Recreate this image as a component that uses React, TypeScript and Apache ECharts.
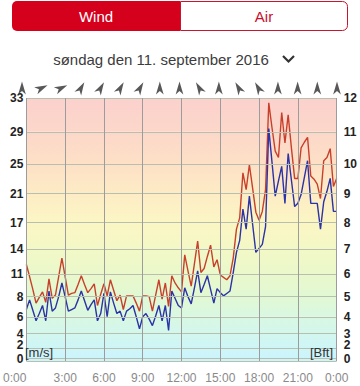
import React, { useEffect, useRef } from "react";
import * as echarts from "echarts";

// 15-minute samples, 0:00 -> 24:00 (m/s)
const STEP_HOURS = 0.25;
const gustValues = [
  12.0, 10.5, 8.9, 7.2, 7.9, 8.6, 7.3, 10.2, 7.8, 8.2, 10.5, 12.8, 10.5, 8.2, 8.4, 8.5,
  9.5, 10.6, 9.5, 8.5, 9.0, 9.6, 6.9, 8.3, 9.6, 8.1, 10.1, 8.8, 7.5, 8.2, 6.4, 8.1,
  8.1, 8.1, 7.2, 6.2, 8.1, 8.1, 8.0, 6.2, 8.2, 10.1, 7.7, 9.7, 6.8, 10.6, 9.7, 9.1,
  8.6, 13.2, 11.2, 9.3, 12.1, 14.9, 11.0, 11.5, 13.0, 14.4, 11.7, 12.6, 10.7, 10.4,
  10.1, 10.6, 12.8, 16.4, 17.8, 23.4, 21.3, 24.4, 21.5, 18.5, 17.5, 18.6, 21.3, 32.1,
  29.0, 26.1, 25.3, 30.9, 27.1, 30.6, 26.5, 22.7, 22.7, 26.5, 27.2, 27.8, 23.0, 22.6,
  22.0, 20.2, 24.9, 25.3, 26.4, 21.7, 22.7,
];
const meanValues = [
  6.4, 7.6, 6.3, 5.0, 5.9, 6.9, 5.0, 8.7, 6.2, 6.6, 8.0, 9.7, 8.0, 6.2, 6.4, 6.6,
  7.6, 8.7, 7.5, 6.3, 7.0, 7.6, 5.0, 5.9, 8.4, 5.5, 8.6, 7.2, 5.9, 6.2, 5.0, 6.2,
  6.5, 6.9, 5.5, 4.0, 5.5, 5.9, 5.2, 4.4, 5.6, 6.9, 5.0, 6.9, 3.8, 8.7, 7.8, 6.9,
  6.6, 9.1, 8.0, 7.1, 9.1, 11.2, 8.5, 9.5, 10.6, 8.9, 7.2, 9.0, 8.5, 8.1,
  8.4, 8.7, 11.0, 13.5, 15.0, 18.9, 16.4, 20.5, 17.0, 13.5, 14.0, 14.5, 16.7, 28.9,
  24.7, 20.5, 22.4, 24.2, 19.6, 25.8, 22.5, 19.2, 19.6, 20.7, 22.8, 24.9, 19.6, 19.6,
  19.6, 16.4, 19.8, 21.1, 22.7, 18.6, 18.6,
];

// Beaufort thresholds (m/s) and their labels
const bftThresholds = [0, 0.3, 1.6, 3.4, 5.5, 8.0, 10.8, 13.9, 17.2, 20.8, 24.5, 28.5, 32.7];
const msLabels = ["0", "1", "2", "4", "6", "8", "11", "14", "17", "21", "25", "29", "33"];
const bftLabels = ["0", "1", "2", "3", "4", "5", "6", "7", "8", "9", "10", "11", "12"];
const bandColors = [
  "#cdf4fb", "#cdf4fb", "#cef5f7", "#d3f7ee", "#d9f8e2", "#e1f8d3", "#eaf8cb",
  "#f3f8c6", "#fbf6c4", "#fdecc5", "#fde0c6", "#fcd7c9", "#fbd1cd",
];
const hourTicks = [0, 3, 6, 9, 12, 15, 18, 21, 24];

// wind direction arrows every 1.5 h (degrees clockwise from north the arrow points to)
const dirHours = [0, 1.5, 3, 4.5, 6, 7.5, 9, 10.5, 12, 13.5, 15, 16.5, 18, 19.5, 21, 22.5, 24];
const dirDegrees = [0, 65, 65, 30, 30, 30, 30, 0, 0, -30, 0, -30, -30, 0, 0, 0, 0];

const FONT = "Liberation Sans";

function nearestIndex(v: number) {
  let best = 0;
  for (let i = 0; i < bftThresholds.length; i++) {
    if (Math.abs(bftThresholds[i] - v) < Math.abs(bftThresholds[best] - v)) best = i;
  }
  return best;
}

// crowded bottom labels are nudged upwards (rich token with bottom padding)
function yLabel(labels: string[]) {
  return (v: number) => {
    const i = nearestIndex(v);
    if (i === 0) return `{s0|${labels[i]}}`;
    if (i === 1) return `{s1|${labels[i]}}`;
    if (i === 2) return `{s2|${labels[i]}}`;
    return `{n|${labels[i]}}`;
  };
}
const base = { fontSize: 12, fontWeight: "bold", color: "#222", fontFamily: FONT, lineHeight: 9 };
const richStyles = {
  n: { ...base },
  s0: { ...base, padding: [0, 0, 4, 0] },
  s1: { ...base, padding: [0, 0, 14, 0] },
  s2: { ...base, padding: [0, 0, 6, 0] },
};

export default function App() {
  const ref = useRef<HTMLDivElement>(null);
  useEffect(() => {
    document.body.style.margin = "0";
    const chart = echarts.init(ref.current!, null, { renderer: "svg" });

    const bands = [];
    for (let k = 0; k < bftThresholds.length - 1; k++) {
      bands.push([
        {
          yAxis: bftThresholds[k],
          itemStyle: {
            color: new echarts.graphic.LinearGradient(0, 0, 0, 1, [
              { offset: 0, color: bandColors[k + 1] },
              { offset: 1, color: bandColors[k] },
            ]),
          },
        },
        { yAxis: bftThresholds[k + 1] },
      ]);
    }
    const gridLines = [
      ...bftThresholds.map((t) => ({ yAxis: t, lineStyle: { color: "#b7bfae", width: 1 } })),
      ...hourTicks.map((h) => ({ xAxis: h, lineStyle: { color: "#9c9c9c", width: 1 } })),
    ];

    const option = {
      animation: false,
      textStyle: { fontFamily: FONT },
      grid: [
        { left: 22, right: 23, top: 98, bottom: 25 },
        { left: 22, right: 23, top: 81, height: 14 },
      ],
      xAxis: [
        {
          type: "value",
          gridIndex: 0,
          min: 0,
          max: 24,
          interval: 3,
          axisLine: { show: false },
          axisTick: { show: false },
          splitLine: { show: false },
          axisLabel: {
            color: "#8a8a8a",
            fontSize: 12,
            margin: 11,
            fontFamily: FONT,
            alignMinLabel: "right",
            formatter: (v: number) => `${v % 24}:00`,
          },
        },
        { type: "value", gridIndex: 1, min: 0, max: 24, show: false },
      ],
      yAxis: [
        {
          type: "value",
          gridIndex: 0,
          position: "left",
          min: 0,
          max: 32.7,
          axisLine: { show: false },
          axisTick: { show: false },
          splitLine: { show: false },
          axisLabel: {
            customValues: bftThresholds,
            showMinLabel: true,
            showMaxLabel: true,
            color: "#222",
            fontSize: 12,
            fontWeight: "bold",
            margin: 3,
            fontFamily: FONT,
            formatter: yLabel(msLabels),
            rich: richStyles,
          },
        },
        {
          type: "value",
          gridIndex: 0,
          position: "right",
          min: 0,
          max: 32.7,
          axisLine: { show: false },
          axisTick: { show: false },
          splitLine: { show: false },
          axisLabel: {
            customValues: bftThresholds,
            showMinLabel: true,
            showMaxLabel: true,
            color: "#222",
            fontSize: 12,
            fontWeight: "bold",
            margin: 7,
            fontFamily: FONT,
            formatter: yLabel(bftLabels),
            rich: richStyles,
          },
        },
        { type: "value", gridIndex: 1, min: 0, max: 1, show: false },
      ],
      series: [
        {
          name: "bands",
          type: "line",
          xAxisIndex: 0,
          yAxisIndex: 0,
          data: [],
          z: 1,
          silent: true,
          markArea: { silent: true, data: bands },
        },
        {
          name: "grid",
          type: "line",
          xAxisIndex: 0,
          yAxisIndex: 0,
          data: [],
          z: 2,
          silent: true,
          markLine: {
            silent: true,
            symbol: ["none", "none"],
            label: { show: false },
            lineStyle: { type: "solid" },
            data: gridLines,
          },
        },
        {
          name: "Vindstød",
          type: "line",
          xAxisIndex: 0,
          yAxisIndex: 0,
          z: 3,
          showSymbol: false,
          data: gustValues.map((v, i) => [i * STEP_HOURS, v]),
          lineStyle: { color: "#c8402c", width: 1.4 },
          itemStyle: { color: "#c8402c" },
        },
        {
          name: "Middelvind",
          type: "line",
          xAxisIndex: 0,
          yAxisIndex: 0,
          z: 4,
          showSymbol: false,
          data: meanValues.map((v, i) => [i * STEP_HOURS, v]),
          lineStyle: { color: "#2b33a6", width: 1.4 },
          itemStyle: { color: "#2b33a6" },
        },
        {
          name: "Retning",
          type: "scatter",
          xAxisIndex: 1,
          yAxisIndex: 2,
          clip: false,
          symbol: "path://M5 0 L10 13 L5 9.5 L0 13 Z",
          symbolSize: [10, 13],
          symbolKeepAspect: true,
          itemStyle: { color: "#2e2e2e" },
          data: dirHours.map((h, i) => ({ value: [h, 0.5], symbolRotate: -dirDegrees[i] })),
        },
      ],
      graphic: [
        {
          type: "rect",
          shape: { x: 12, y: 1, width: 168, height: 30, r: [5, 0, 0, 5] },
          style: { fill: "#d5001c" },
        },
        {
          type: "rect",
          shape: { x: 180.5, y: 1.5, width: 167, height: 29, r: [0, 5, 5, 0] },
          style: { fill: "#ffffff", stroke: "#c8142c", lineWidth: 1 },
        },
        {
          type: "text",
          x: 96,
          y: 16,
          style: {
            text: "Wind",
            fill: "#ffffff",
            font: `15px "${FONT}"`,
            textAlign: "center",
            textVerticalAlign: "middle",
          },
        },
        {
          type: "text",
          x: 264,
          y: 16,
          style: {
            text: "Air",
            fill: "#c8102e",
            font: `15px "${FONT}"`,
            textAlign: "center",
            textVerticalAlign: "middle",
          },
        },
        {
          type: "text",
          x: 161,
          y: 59,
          style: {
            text: "søndag den 11. september 2016",
            fill: "#3c3c3c",
            font: `15px "${FONT}"`,
            textAlign: "center",
            textVerticalAlign: "middle",
          },
        },
        {
          type: "polyline",
          shape: { points: [[283, 56], [288.5, 61.5], [294, 56]] },
          style: { stroke: "#333", lineWidth: 2.2, fill: "none" },
        },
        {
          type: "text",
          x: 25,
          y: 352,
          z: 10,
          style: {
            text: "[m/s]",
            fill: "#333",
            font: `13px "${FONT}"`,
            textAlign: "left",
            textVerticalAlign: "middle",
          },
        },
        {
          type: "text",
          x: 333,
          y: 352,
          z: 10,
          style: {
            text: "[Bft]",
            fill: "#333",
            font: `13px "${FONT}"`,
            textAlign: "right",
            textVerticalAlign: "middle",
          },
        },
      ],
    };

    chart.setOption(option as any);
    return () => chart.dispose();
  }, []);
  return <div ref={ref} style={{ width: 360, height: 386 }} />;
}
